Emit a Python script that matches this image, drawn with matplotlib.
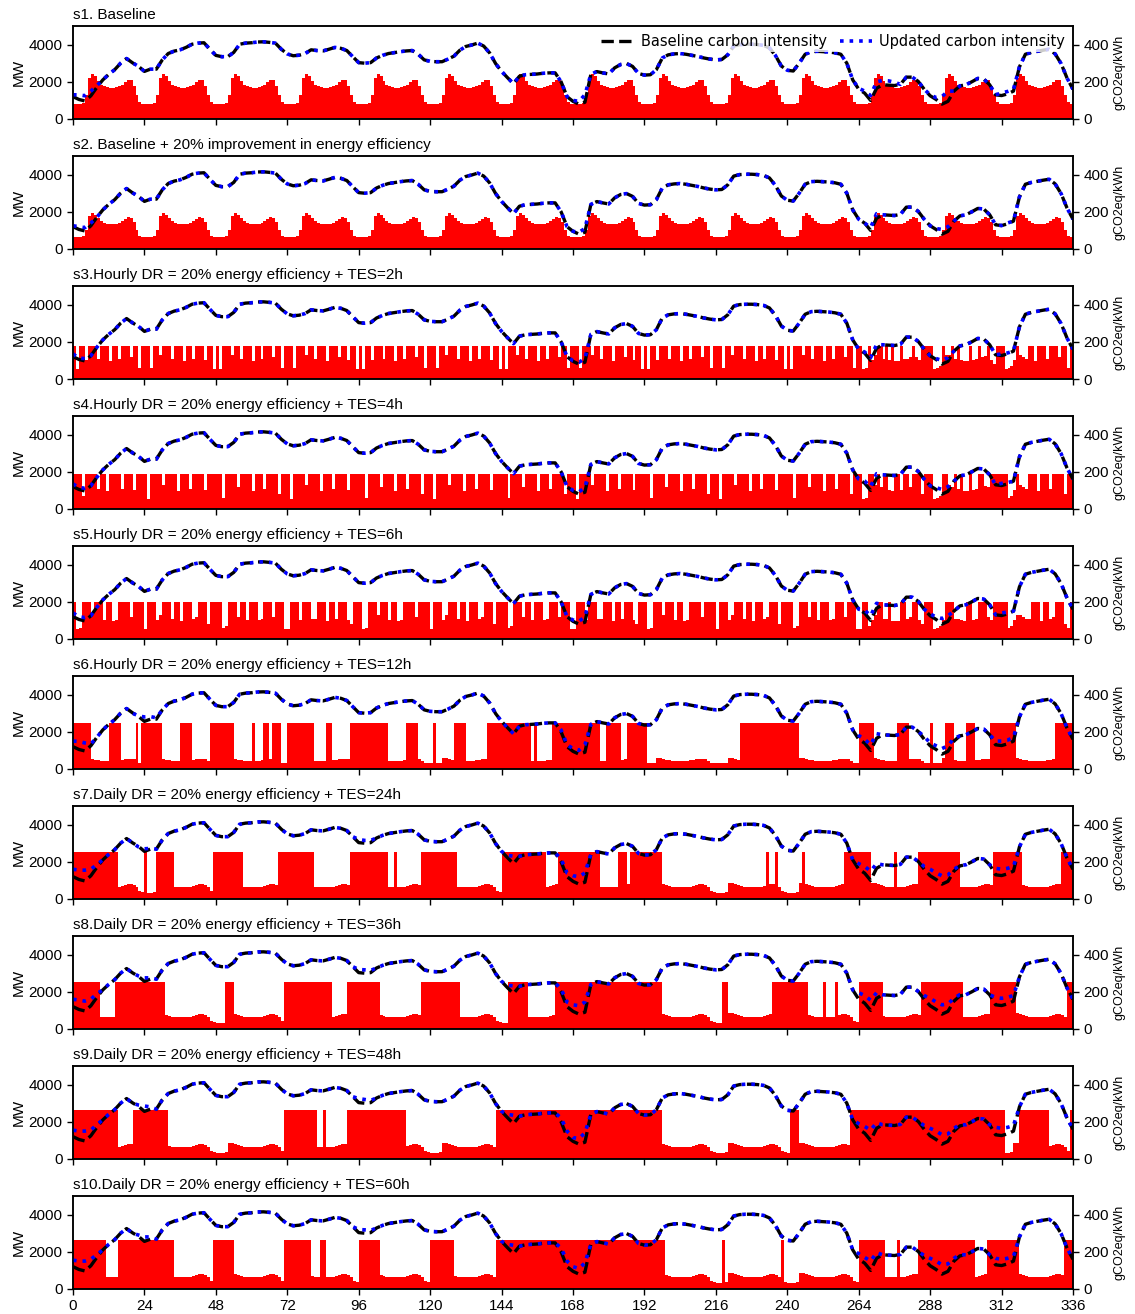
import numpy as np
import matplotlib.pyplot as plt

# hourly load profile (MW), one typical day, read from panel s1
baseline_day = [800, 780, 800, 850, 1300, 2200, 2430, 2300, 2050, 1850, 1750, 1700,
                1680, 1680, 1700, 1760, 1850, 2000, 2120, 2080, 1800, 1300, 900, 800]
# panel s2 (20% efficiency)
efficiency_day = [640, 620, 640, 680, 1040, 1760, 1950, 1840, 1640, 1480, 1400, 1360,
                  1340, 1340, 1360, 1410, 1480, 1600, 1700, 1660, 1440, 1040, 720, 640]
# level of the non-charging hours in the DR panels
low_day_hourly = [550, 550, 600, 700, 1000, 1300, 1300, 1200, 1100, 1050, 1000, 950,
                  950, 950, 1000, 1050, 1100, 1200, 1250, 1200, 1000, 800, 600, 550]
low_day_s6 = [300, 300, 310, 340, 600, 580, 540, 500, 470, 450, 430, 420,
              420, 430, 440, 460, 480, 520, 550, 560, 530, 450, 330, 300]
low_day_daily = [330, 330, 340, 380, 880, 850, 800, 750, 700, 670, 650, 630,
                 630, 640, 650, 670, 700, 740, 790, 800, 760, 650, 430, 370]

# baseline carbon intensity (gCO2eq/kWh), every 2 hours from 0 to 336
ci_hours = list(range(0, 337, 2))
baseline_ci = [120, 105, 97, 125, 170, 210, 240, 265, 300, 325, 302, 283,
               256, 268, 268, 318, 352, 365, 372, 385, 402, 408, 410, 375,
               342, 335, 335, 358, 402, 408, 410, 414, 415, 412, 408, 375,
               350, 340, 343, 352, 372, 368, 366, 375, 385, 380, 368, 335,
               303, 300, 303, 328, 342, 352, 357, 362, 366, 368, 348, 318,
               310, 308, 308, 322, 338, 370, 390, 398, 408, 392, 355, 298,
               256, 222, 190, 230, 238, 240, 242, 246, 248, 248, 200, 120,
               95, 80, 90, 240, 255, 248, 242, 275, 293, 298, 283, 245,
               236, 238, 265, 328, 345, 350, 352, 348, 342, 336, 328, 322,
               318, 320, 345, 392, 400, 402, 402, 400, 396, 382, 342, 285,
               262, 258, 300, 348, 362, 364, 362, 360, 356, 348, 300, 210,
               160, 139, 100, 165, 184, 182, 180, 186, 225, 225, 202, 160,
               125, 105, 80, 95, 150, 178, 184, 200, 218, 215, 184, 130,
               126, 135, 150, 280, 348, 358, 364, 370, 375, 350, 298, 220,
               160]

# updated carbon intensity where it departs from the baseline (hour: value)
updated_ci = [
    {0: 130, 2: 130, 4: 125, 6: 150, 8: 180, 168: 100, 170: 95, 172: 130, 264: 165,
     266: 150, 268: 126, 270: 200, 272: 207, 274: 205, 276: 198, 288: 130, 290: 115,
     292: 121, 294: 150, 312: 140, 314: 148, 316: 160},
    {0: 125, 2: 120, 4: 115, 6: 140, 170: 90, 172: 110, 268: 115, 270: 190, 290: 110,
     292: 105, 294: 120, 314: 140},
    {0: 135, 2: 112, 4: 110, 168: 98, 170: 90, 172: 110, 266: 145, 268: 115, 270: 185,
     290: 110, 292: 100, 294: 115, 312: 135, 314: 140},
    {0: 135, 2: 115, 4: 112, 168: 100, 170: 92, 172: 115, 266: 150, 268: 120, 270: 190,
     290: 115, 292: 105, 294: 120, 312: 138, 314: 142},
    {0: 140, 2: 120, 4: 115, 168: 102, 170: 95, 172: 120, 266: 155, 268: 125, 270: 192,
     288: 135, 290: 118, 292: 110, 294: 125, 312: 140, 314: 145},
    {0: 150, 2: 148, 4: 140, 6: 135, 20: 300, 22: 285, 24: 280, 26: 282, 28: 275,
     164: 210, 166: 130, 168: 110, 170: 100, 172: 130, 264: 180, 266: 160, 268: 130,
     270: 190, 286: 175, 288: 140, 290: 125, 292: 110, 294: 125, 296: 165, 310: 150,
     312: 150, 314: 155, 316: 170},
    {0: 160, 2: 155, 4: 155, 6: 160, 8: 185, 22: 280, 24: 270, 26: 272, 96: 320,
     98: 315, 100: 315, 146: 235, 148: 230, 164: 215, 166: 140, 168: 125, 170: 120,
     172: 140, 264: 190, 266: 175, 268: 150, 270: 190, 286: 175, 288: 160, 290: 140,
     292: 125, 294: 130, 296: 160, 298: 180, 310: 165, 312: 160, 314: 165, 316: 175},
    {0: 160, 2: 155, 4: 150, 6: 160, 8: 190, 22: 285, 24: 275, 26: 275, 96: 320,
     98: 318, 100: 315, 146: 235, 148: 232, 164: 215, 166: 145, 168: 130, 170: 125,
     172: 145, 264: 195, 266: 180, 268: 155, 270: 195, 286: 180, 288: 165, 290: 145,
     292: 130, 294: 135, 296: 165, 298: 185, 310: 170, 312: 165, 314: 170, 316: 180},
    {0: 155, 2: 150, 4: 150, 6: 155, 8: 185, 20: 300, 22: 290, 24: 285, 26: 280,
     96: 325, 98: 320, 100: 315, 146: 240, 148: 235, 164: 220, 166: 150, 168: 115,
     170: 110, 172: 140, 264: 190, 266: 175, 268: 155, 270: 195, 286: 180, 288: 165,
     290: 150, 292: 130, 294: 135, 296: 165, 298: 185, 310: 170, 312: 165, 314: 170,
     316: 180},
    {0: 155, 2: 150, 4: 150, 6: 160, 8: 185, 20: 300, 22: 290, 24: 280, 26: 280,
     96: 320, 98: 318, 100: 315, 146: 240, 148: 235, 164: 220, 166: 150, 168: 120,
     170: 110, 172: 140, 264: 190, 266: 170, 268: 150, 270: 195, 286: 180, 288: 165,
     290: 150, 292: 130, 294: 135, 296: 165, 298: 185, 310: 165, 312: 160, 314: 165,
     316: 175},
]

titles = ["s1. Baseline",
          "s2. Baseline + 20% improvement in energy efficiency",
          "s3.Hourly DR = 20% energy efficiency + TES=2h",
          "s4.Hourly DR = 20% energy efficiency + TES=4h",
          "s5.Hourly DR = 20% energy efficiency + TES=6h",
          "s6.Hourly DR = 20% energy efficiency + TES=12h",
          "s7.Daily DR = 20% energy efficiency + TES=24h",
          "s8.Daily DR = 20% energy efficiency + TES=36h",
          "s9.Daily DR = 20% energy efficiency + TES=48h",
          "s10.Daily DR = 20% energy efficiency + TES=60h"]

# DR panels: charging level (MW) and which hours sit at it (1) or at the low level (0)
caps = [1800, 1900, 2000, 2450, 2550, 2550, 2620, 2620]
masks = [
    # s3
    "101101110111011011101101 110110111011101101110110 101110110111011011101101 "
    "110111011011101110110110 101101110111011011101101 110110111011101101110110 "
    "101110110111011011101101 110111011011101110110110 101101110111011011101101 "
    "110110111011101101110110 101110110111011011101101 100100110101001000100111 "
    "100010010100010010010011 100001000110111011101101",
    # s4
    "111011110110111101110111 101111011110111011110111 110111101111011101111011 "
    "101111011110111011110111 110111101111011101111011 101111011110111011110111 "
    "110111101111011101111011 101111011110111011110111 110111101111011101111011 "
    "101111011110111011110111 110111101111011101111011 100110101100110110111011 "
    "100011001010010011001111 110001000111011101111011",
    # s5
    "100111011101100111101111 011100111011011100111011 110011101101110011101110 "
    "011101110011101101110011 100111011101100111101111 011100111011011100111011 "
    "110011101101110011101110 011101110011101101110011 100111011101100111101111 "
    "011100111011011100111011 110011101101110011101110 011000110010001100110011 "
    "100001110000110011100111 110000000011101100111001",
    # s6
    "111111000000111100000101 111111000000111100000011 111111000000100011011100 "
    "111111111000011000000111 111111111100000011110000 010000001111000000011111 "
    "111111111101000001111111 111111111001111100111111 100000000000000000000000 "
    "000000001111111111111111 111100000000000000000000 111110000000011110000000 "
    "100001110000111000001111 111110000000000000111111",
    # s7
    "111111111111111000000000 100011111100000000000001 111111111000000000000111 "
    "111111111000000000000111 111111111100100000000111 111111111000000000000000 "
    "111111111111111000011111 111111111000000111011111 111111000000000000000000 "
    "000000000000000001001000 000001000000000000011111 111100000000100000001111 "
    "111111111100000000000111 111111100000000000001111",
    # s8
    "111111111000001111111111 111111100000000000000000 000111000000000000000001 "
    "111111111111111000001111 111111100000000000000111 111111111100000000000000 "
    "001111111000000000111111 111111111111111111111111 111111000000000000000000 "
    "001100000000000000011111 111111100000100010000000 111111110000000000000111 "
    "111111111110000000001111 111110000000000000000011",
    # s9
    "111111111111111000001111 111111110000000000000000 000000000000000000000001 "
    "111111111100100000001111 111111111111111100000000 000000000000000000000011 "
    "111111111111111111111111 111111111111111111111111 111111000000000000000000 "
    "000000000000000000000000 011100000000000000000111 111111111111111111111111 "
    "111111111111111111111111 100000111111111100000001",
    # s10
    "111111111110000111111111 111111111100000000000001 111111000000000000000001 "
    "111111110001100000000000 111111100000000000000000 111111110000000000000011 "
    "111111111111111111111111 111111111111111111111111 111111100000000000000000 "
    "001000000000000000000010 000000000000000000000000 111111111000010000001111 "
    "111111111111111000011111 111111000000000000000111",
]
low_levels = [low_day_hourly, low_day_hourly, low_day_hourly, low_day_s6,
              low_day_daily, low_day_daily, low_day_daily, low_day_daily]

hours = np.arange(336)
loads = [np.tile(baseline_day, 14), np.tile(efficiency_day, 14)]
for cap, mask, low in zip(caps, masks, low_levels):
    on = np.array([c == "1" for c in mask.replace(" ", "")])
    loads.append(np.where(on, cap, np.tile(low, 14)))

plt.rcParams['font.family'] = ['Liberation Sans', 'DejaVu Sans']

fig = plt.figure(figsize=(11.35, 13.14), dpi=100)
W, H = 1135, 1314
for i in range(10):
    top = 26 + 130 * i
    ax = fig.add_axes([73 / W, 1 - (top + 93) / H, 1000 / W, 93 / H])
    ax.bar(hours, loads[i], width=1.0, align='edge', color='red', linewidth=0)
    ax.set_xlim(0, 336)
    ax.set_ylim(0, 5000)
    ax.set_yticks([0, 2000, 4000])
    ax.set_xticks(range(0, 337, 24))
    ax.set_ylabel("MW", fontsize=11, labelpad=2)
    ax.tick_params(labelsize=11, width=1, length=4)
    if i < 9:
        ax.set_xticklabels([])
    ax.set_title(titles[i], loc='left', fontsize=11, pad=5)

    upd = list(baseline_ci)
    for h, v in updated_ci[i].items():
        upd[h // 2] = v
    ax2 = ax.twinx()
    ax2.plot(ci_hours, baseline_ci, color='black', linestyle='--', lw=2.4,
             label="Baseline carbon intensity")
    ax2.plot(ci_hours, upd, color='blue', linestyle=':', lw=2.6,
             label="Updated carbon intensity")
    ax2.set_ylim(0, 500)
    ax2.set_yticks([0, 200, 400])
    ax2.set_ylabel("gCO2eq/kWh", fontsize=9, labelpad=3)
    ax2.tick_params(labelsize=11, width=1, length=4)
    for a in (ax, ax2):
        for s in a.spines.values():
            s.set_linewidth(1.1)
    if i == 0:
        ax2.legend(loc='upper right', ncol=2,
                   prop={'family': 'DejaVu Sans', 'size': 10.5},
                   frameon=True, edgecolor='none', framealpha=0.8, borderpad=0.2,
                   borderaxespad=0.35, columnspacing=0.9, handlelength=2.2,
                   handletextpad=0.5)

fig.savefig("out.png", dpi=100)
